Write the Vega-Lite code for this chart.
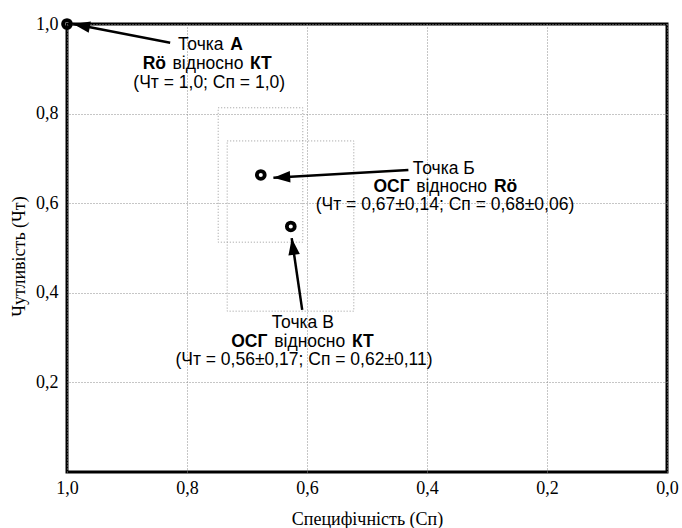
{
  "$schema": "https://vega.github.io/schema/vega-lite/v6.json",
  "width": 600,
  "height": 448,
  "autosize": {"type": "none"},
  "padding": {"left": 67, "top": 24, "right": 15, "bottom": 56},
  "background": "white",
  "config": {
    "view": {"stroke": "black", "strokeWidth": 3},
    "axis": {
      "domain": false, "ticks": false, "grid": true,
      "gridColor": "#8c8c8c", "gridDash": [1, 2], "gridWidth": 1,
      "labelFont": "Liberation Serif", "labelFontSize": 18, "labelColor": "black",
      "titleFont": "Liberation Serif", "titleFontSize": 18, "titleFontWeight": "normal", "titleColor": "black",
      "labelFlush": false, "labelOverlap": false
    },
    "text": {"font": "Liberation Sans", "fontSize": 17.5, "color": "black", "baseline": "middle"}
  },
  "datasets": {
    "boxes": [
      {"spec_lo": 0.607, "spec_hi": 0.748, "sens_lo": 0.513, "sens_hi": 0.813},
      {"spec_lo": 0.522, "spec_hi": 0.733, "sens_lo": 0.359, "sens_hi": 0.739}
    ],
    "points": [
      {"spec": 1.0, "sens": 1.0, "point": "А"},
      {"spec": 0.677, "sens": 0.663, "point": "Б"},
      {"spec": 0.627, "sens": 0.548, "point": "В"}
    ],
    "arrows": [
      {"x_tail": 0.828, "y_tail": 0.958, "x_tip": 0.9895, "y_tip": 1.0},
      {"x_tail": 0.431, "y_tail": 0.674, "x_tip": 0.656, "y_tip": 0.657},
      {"x_tail": 0.608, "y_tail": 0.362, "x_tip": 0.6255, "y_tip": 0.522}
    ],
    "labels": [
      {"x": 0.739, "y": 0.954, "text": "Точка", "kind": "plainRight"},
      {"x": 0.728, "y": 0.954, "text": "А", "kind": "boldLeft"},
      {"x": 0.835, "y": 0.911, "text": "Rö", "kind": "boldRight"},
      {"x": 0.765, "y": 0.911, "text": "відносно", "kind": "plain"},
      {"x": 0.695, "y": 0.911, "text": "КТ", "kind": "boldLeft"},
      {"x": 0.763, "y": 0.869, "text": "(Чт = 1,0; Сп = 1,0)", "kind": "plain"},
      {"x": 0.372, "y": 0.676, "text": "Точка Б", "kind": "plain"},
      {"x": 0.429, "y": 0.636, "text": "ОСГ", "kind": "boldRight"},
      {"x": 0.359, "y": 0.636, "text": "відносно", "kind": "plain"},
      {"x": 0.2885, "y": 0.636, "text": "Rö", "kind": "boldLeft"},
      {"x": 0.370, "y": 0.595, "text": "(Чт = 0,67±0,14; Сп = 0,68±0,06)", "kind": "plain"},
      {"x": 0.607, "y": 0.332, "text": "Точка В", "kind": "plain"},
      {"x": 0.666, "y": 0.291, "text": "ОСГ", "kind": "boldRight"},
      {"x": 0.5955, "y": 0.291, "text": "відносно", "kind": "plain"},
      {"x": 0.525, "y": 0.291, "text": "КТ", "kind": "boldLeft"},
      {"x": 0.605, "y": 0.250, "text": "(Чт = 0,56±0,17; Сп = 0,62±0,11)", "kind": "plain"}
    ]
  },
  "layer": [
    {
      "data": {"name": "boxes"},
      "mark": {"type": "rect", "fillOpacity": 0, "stroke": "#9a9a9a", "strokeDash": [1, 2], "strokeWidth": 1},
      "encoding": {
        "x": {
          "field": "spec_lo", "type": "quantitative",
          "scale": {"domain": [0, 1], "reverse": true, "nice": false, "zero": false},
          "axis": {
            "values": [1, 0.8, 0.6, 0.4, 0.2, 0],
            "labelExpr": "replace(format(datum.value, '.1f'), '.', ',')",
            "labelPadding": 7,
            "titleY": 47, "titleBaseline": "middle"
          },
          "title": "Специфічність (Сп)"
        },
        "x2": {"field": "spec_hi"},
        "y": {
          "field": "sens_lo", "type": "quantitative",
          "scale": {"domain": [0, 1], "nice": false, "zero": false},
          "axis": {
            "values": [0.2, 0.4, 0.6, 0.8, 1],
            "labelExpr": "replace(format(datum.value, '.1f'), '.', ',')",
            "labelPadding": 9,
            "titleX": -48, "titleY": 232, "titleAngle": -90, "titleBaseline": "middle", "titleAlign": "center"
          },
          "title": "Чутливість (Чт)"
        },
        "y2": {"field": "sens_hi"}
      }
    },
    {
      "data": {"name": "arrows"},
      "mark": {"type": "rule", "color": "black", "strokeWidth": 2.5},
      "encoding": {
        "x": {"field": "x_tail", "type": "quantitative", "title": "Специфічність (Сп)"},
        "y": {"field": "y_tail", "type": "quantitative", "title": "Чутливість (Чт)"},
        "x2": {"field": "x_tip"},
        "y2": {"field": "y_tip"}
      }
    },
    {
      "data": {"name": "arrows"},
      "transform": [
        {"calculate": "atan2(-(datum.y_tip - datum.y_tail) * 448, -(datum.x_tip - datum.x_tail) * 600) * 180 / PI", "as": "ang"}
      ],
      "mark": {"type": "point", "shape": "M0,0L-2.1,-0.72L-2.1,0.72Z", "filled": true, "color": "black", "opacity": 1, "size": 256},
      "encoding": {
        "x": {"field": "x_tip", "type": "quantitative", "title": "Специфічність (Сп)"},
        "y": {"field": "y_tip", "type": "quantitative", "title": "Чутливість (Чт)"},
        "angle": {"field": "ang", "type": "quantitative", "scale": null}
      }
    },
    {
      "data": {"name": "points"},
      "mark": {"type": "point", "filled": false, "color": "black", "strokeWidth": 3.8, "size": 62, "opacity": 1},
      "encoding": {
        "x": {"field": "spec", "type": "quantitative", "title": "Специфічність (Сп)"},
        "y": {"field": "sens", "type": "quantitative", "title": "Чутливість (Чт)"}
      }
    },
    {
      "data": {"name": "labels"},
      "transform": [{"filter": "datum.kind == 'plain'"}],
      "mark": {"type": "text", "align": "center", "fontWeight": "normal"},
      "encoding": {
        "x": {"field": "x", "type": "quantitative", "title": "Специфічність (Сп)"},
        "y": {"field": "y", "type": "quantitative", "title": "Чутливість (Чт)"},
        "text": {"field": "text"}
      }
    },
    {
      "data": {"name": "labels"},
      "transform": [{"filter": "datum.kind == 'plainRight'"}],
      "mark": {"type": "text", "align": "right", "fontWeight": "normal"},
      "encoding": {
        "x": {"field": "x", "type": "quantitative", "title": "Специфічність (Сп)"},
        "y": {"field": "y", "type": "quantitative", "title": "Чутливість (Чт)"},
        "text": {"field": "text"}
      }
    },
    {
      "data": {"name": "labels"},
      "transform": [{"filter": "datum.kind == 'boldRight'"}],
      "mark": {"type": "text", "align": "right", "fontWeight": "bold"},
      "encoding": {
        "x": {"field": "x", "type": "quantitative", "title": "Специфічність (Сп)"},
        "y": {"field": "y", "type": "quantitative", "title": "Чутливість (Чт)"},
        "text": {"field": "text"}
      }
    },
    {
      "data": {"name": "labels"},
      "transform": [{"filter": "datum.kind == 'boldLeft'"}],
      "mark": {"type": "text", "align": "left", "fontWeight": "bold"},
      "encoding": {
        "x": {"field": "x", "type": "quantitative", "title": "Специфічність (Сп)"},
        "y": {"field": "y", "type": "quantitative", "title": "Чутливість (Чт)"},
        "text": {"field": "text"}
      }
    }
  ]
}
